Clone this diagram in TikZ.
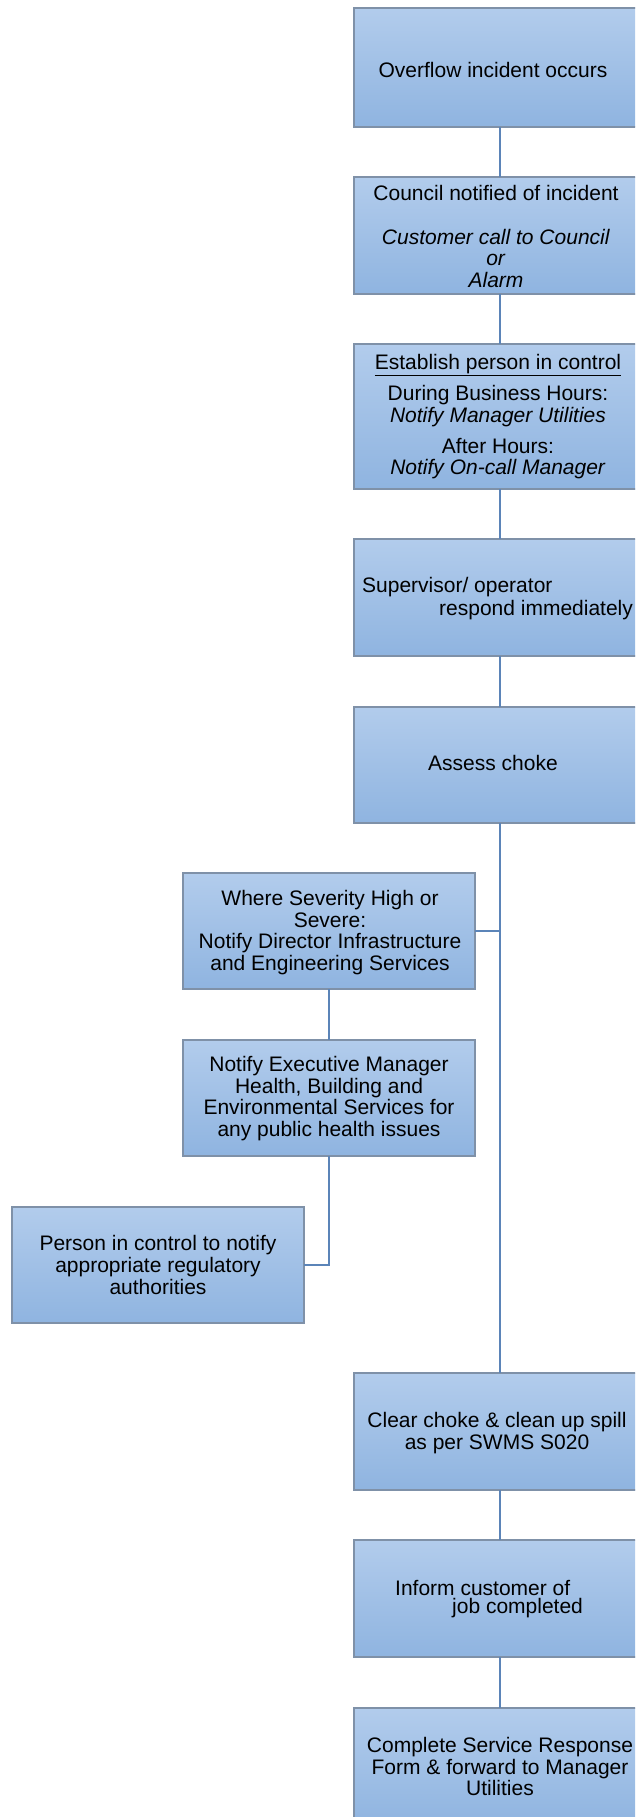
\documentclass[tikz,border=0pt]{standalone}
\usepackage{fontspec}
\setmainfont{Liberation Sans}
\definecolor{boxtop}{HTML}{B2CCEC}
\definecolor{boxbot}{HTML}{8FB4E0}
\definecolor{boxedge}{HTML}{7F91A8}
\definecolor{linkc}{HTML}{5B84B8}
\tikzset{
  flowbox/.style={rectangle, draw=boxedge, line width=1.3pt, top color=boxtop, bottom color=boxbot,
    minimum width=292pt, inner sep=0pt, outer sep=0pt},
  txt/.style={font=\fontsize{21}{21.7}\selectfont, align=center, inner sep=0pt, text=black},
  link/.style={draw=linkc, line width=2.2pt}
}
\begin{document}
\begin{tikzpicture}[x=1pt,y=-1pt]
\path[use as bounding box, clip] (0,0) rectangle (635,1817);
\fill[white] (0,0) rectangle (635,1817);

\node[flowbox, minimum height=119pt] (b1) at (500,67.5) {};
\node[flowbox, minimum height=117pt] (b2) at (500,235.5) {};
\node[flowbox, minimum height=145pt] (b3) at (500,416.5) {};
\node[flowbox, minimum height=117pt] (b4) at (500,597.5) {};
\node[flowbox, minimum height=116pt] (b5) at (500,765) {};
\node[flowbox, minimum height=116pt] (b6) at (329,931) {};
\node[flowbox, minimum height=116pt] (b7) at (329,1098) {};
\node[flowbox, minimum height=116pt] (b8) at (158,1265) {};
\node[flowbox, minimum height=117pt] (b9) at (500,1431.5) {};
\node[flowbox, minimum height=117pt] (b10) at (500,1598.5) {};
\node[flowbox, minimum height=117pt] (b11) at (500,1766.5) {};

\draw[link] (b1.south) -- (b2.north);
\draw[link] (b2.south) -- (b3.north);
\draw[link] (b3.south) -- (b4.north);
\draw[link] (b4.south) -- (b5.north);
\draw[link] (b5.south) -- (b9.north);
\draw[link] (b6.east) -- (b6.east -| b5.south);
\draw[link] (b6.south) -- (b7.north);
\draw[link] (b7.south) |- (b8.east);
\draw[link] (b9.south) -- (b10.north);
\draw[link] (b10.south) -- (b11.north);

\node[txt] (t1) at (493,70) {Overflow incident occurs};
\node[txt] (t2) at (496,236.5) {Council notified of incident\\[21.7pt]\textit{Customer call to Council}\\\textit{or}\\\textit{Alarm}};
\node[txt] (t3) at (498,416.5) {\underline{Establish person in control}\\[10pt]During Business Hours:\\\textit{Notify Manager Utilities}\\[9pt]After Hours:\\\textit{Notify On-call Manager}};
\node[txt, anchor=west] (t4a) at (362,587) {Supervisor/ operator};
\node[txt, anchor=west] (t4b) at (439,610) {respond immediately};
\node[txt] (t5) at (493,763) {Assess choke};
\node[txt] (t6) at (330,932.5) {Where Severity High or\\Severe:\\Notify Director Infrastructure\\and Engineering Services};
\node[txt] (t7) at (329,1098.5) {Notify Executive Manager\\Health, Building and\\Environmental Services for\\any public health issues};
\node[txt] (t8) at (158,1265) {Person in control to notify\\appropriate regulatory\\authorities};
\node[txt] (t9) at (497,1433) {Clear choke \& clean up spill\\as per SWMS S020};
\node[txt, anchor=west] (t10a) at (395,1588) {Inform customer of};
\node[txt, anchor=west] (t10b) at (452,1608) {job completed};
\node[txt] (t11) at (500,1766.5) {Complete Service Response\\Form \& forward to Manager\\Utilities};
\end{tikzpicture}
\end{document}
